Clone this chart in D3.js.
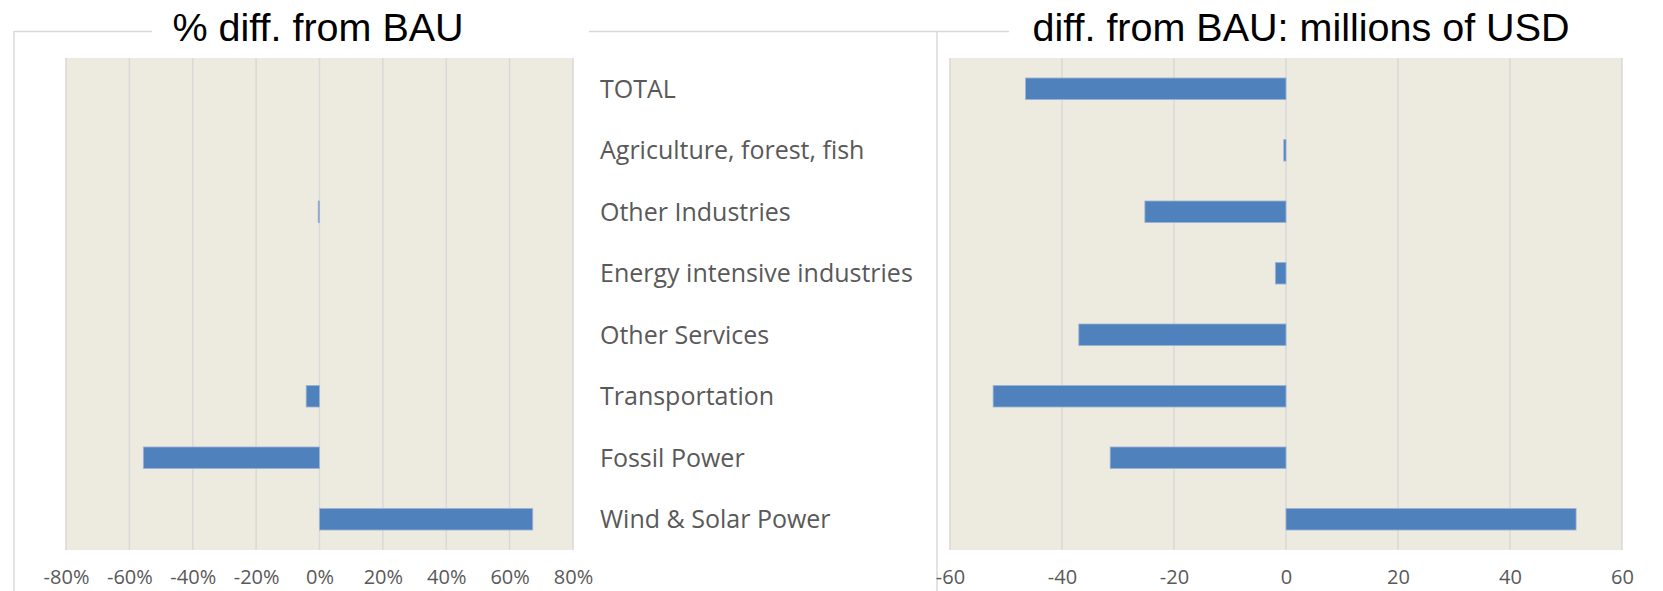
<!DOCTYPE html>
<html>
<head>
<meta charset="utf-8">
<script src="https://cdn.jsdelivr.net/npm/d3@7"></script>
<style>
  body { margin: 0; background: #fff; }
  svg { display: block; }
</style>
</head>
<body>
<div id="chart"></div>
<script>
// Sectors, top to bottom
const categories = [
  "TOTAL",
  "Agriculture, forest, fish",
  "Other Industries",
  "Energy intensive industries",
  "Other Services",
  "Transportation",
  "Fossil Power",
  "Wind & Solar Power"
];

// % difference from BAU (left panel)
const pctValues = [0, 0, -0.4, 0, 0, -4.2, -55.6, 67.3];
const pctTicks = [-80, -60, -40, -20, 0, 20, 40, 60, 80];

// difference from BAU in millions of USD (right panel)
const usdValues = [-46.5, -0.4, -25.2, -1.9, -37.0, -52.3, -31.4, 51.8];
const usdTicks = [-60, -40, -20, 0, 20, 40, 60];

const W = 1663, H = 591;
const svg = d3.select("#chart").append("svg")
  .attr("width", W)
  .attr("height", H);

// outer frames (light grey, like the spreadsheet chart borders)
const frameColor = "#d9d9d9";
svg.append("line").attr("x1", 14).attr("x2", W).attr("y1", 31.5).attr("y2", 31.5)
  .attr("stroke", frameColor).attr("stroke-width", 1.5);
svg.append("line").attr("x1", 14).attr("x2", 14).attr("y1", 31).attr("y2", H)
  .attr("stroke", frameColor).attr("stroke-width", 1.5);
svg.append("line").attr("x1", 937).attr("x2", 937).attr("y1", 31).attr("y2", H)
  .attr("stroke", frameColor).attr("stroke-width", 1.5);

// shared vertical band scale
const y = d3.scaleBand()
  .domain(categories)
  .range([58, 550])
  .paddingInner(0.65)
  .paddingOuter(0.325);

class BarPanel {
  constructor(opts) {
    Object.assign(this, opts);
    this.initVis();
  }

  initVis() {
    let vis = this;
    vis.g = svg.append("g");

    vis.x = d3.scaleLinear()
      .domain(d3.extent(vis.ticks))
      .range([vis.left, vis.right]);

    // plot background
    vis.g.append("rect")
      .attr("x", vis.left)
      .attr("y", y.range()[0])
      .attr("width", vis.right - vis.left)
      .attr("height", y.range()[1] - y.range()[0])
      .attr("fill", "#edeae0");

    // vertical gridlines
    vis.g.selectAll(".grid")
      .data(vis.ticks)
      .join("line")
      .attr("class", "grid")
      .attr("x1", d => vis.x(d))
      .attr("x2", d => vis.x(d))
      .attr("y1", y.range()[0])
      .attr("y2", y.range()[1])
      .attr("stroke", "#d9d9d9")
      .attr("stroke-width", 1.5);

    // axis labels only, no domain or tick marks
    const axis = d3.axisBottom(vis.x)
      .tickValues(vis.ticks)
      .tickFormat(vis.format)
      .tickSize(0)
      .tickPadding(0);

    vis.g.append("g")
      .attr("transform", "translate(0,570)")
      .call(axis)
      .call(g => g.select(".domain").remove())
      .selectAll("text")
      .attr("dy", "0.71em")
      .attr("font-family", "'Open Sans', sans-serif")
      .attr("font-size", 20)
      .attr("fill", "#595959");

    vis.updateVis();
  }

  updateVis() {
    let vis = this;
    vis.g.selectAll(".bar")
      .data(vis.values.map((v, i) => ({ cat: categories[i], v })))
      .join("rect")
      .attr("class", "bar")
      .attr("x", d => vis.x(Math.min(0, d.v)))
      .attr("width", d => Math.abs(vis.x(d.v) - vis.x(0)))
      .attr("y", d => y(d.cat))
      .attr("height", y.bandwidth())
      .attr("fill", "#4f81bd")
      .attr("stroke", "#9cb4d6")
      .attr("stroke-width", d => d.v === 0 ? 0 : 0.8);

    // title on a white box that cuts the frame line
    vis.g.append("rect")
      .attr("x", vis.titleBox[0])
      .attr("y", 0)
      .attr("width", vis.titleBox[1] - vis.titleBox[0])
      .attr("height", 58)
      .attr("fill", "#fff");

    vis.g.append("text")
      .attr("x", vis.titleX)
      .attr("y", 41)
      .attr("text-anchor", "middle")
      .attr("font-family", "'Liberation Sans', Arial, sans-serif")
      .attr("font-size", 39.5)
      .attr("fill", "#000")
      .text(vis.title);
  }
}

new BarPanel({
  values: pctValues,
  ticks: pctTicks,
  format: d => d + "%",
  left: 66, right: 573,
  title: "% diff. from BAU",
  titleBox: [152, 589],
  titleX: 318
});

new BarPanel({
  values: usdValues,
  ticks: usdTicks,
  format: d => d,
  left: 950, right: 1622,
  title: "diff. from BAU: millions of USD",
  titleBox: [1009, W],
  titleX: 1301
});

// category labels between the two panels
svg.append("g")
  .selectAll("text")
  .data(categories)
  .join("text")
  .attr("x", 600)
  .attr("y", d => y(d) + y.bandwidth() / 2)
  .attr("dy", "0.36em")
  .attr("font-family", "'Open Sans', sans-serif")
  .attr("font-size", 25)
  .attr("fill", "#595959")
  .text(d => d);
</script>
</body>
</html>
